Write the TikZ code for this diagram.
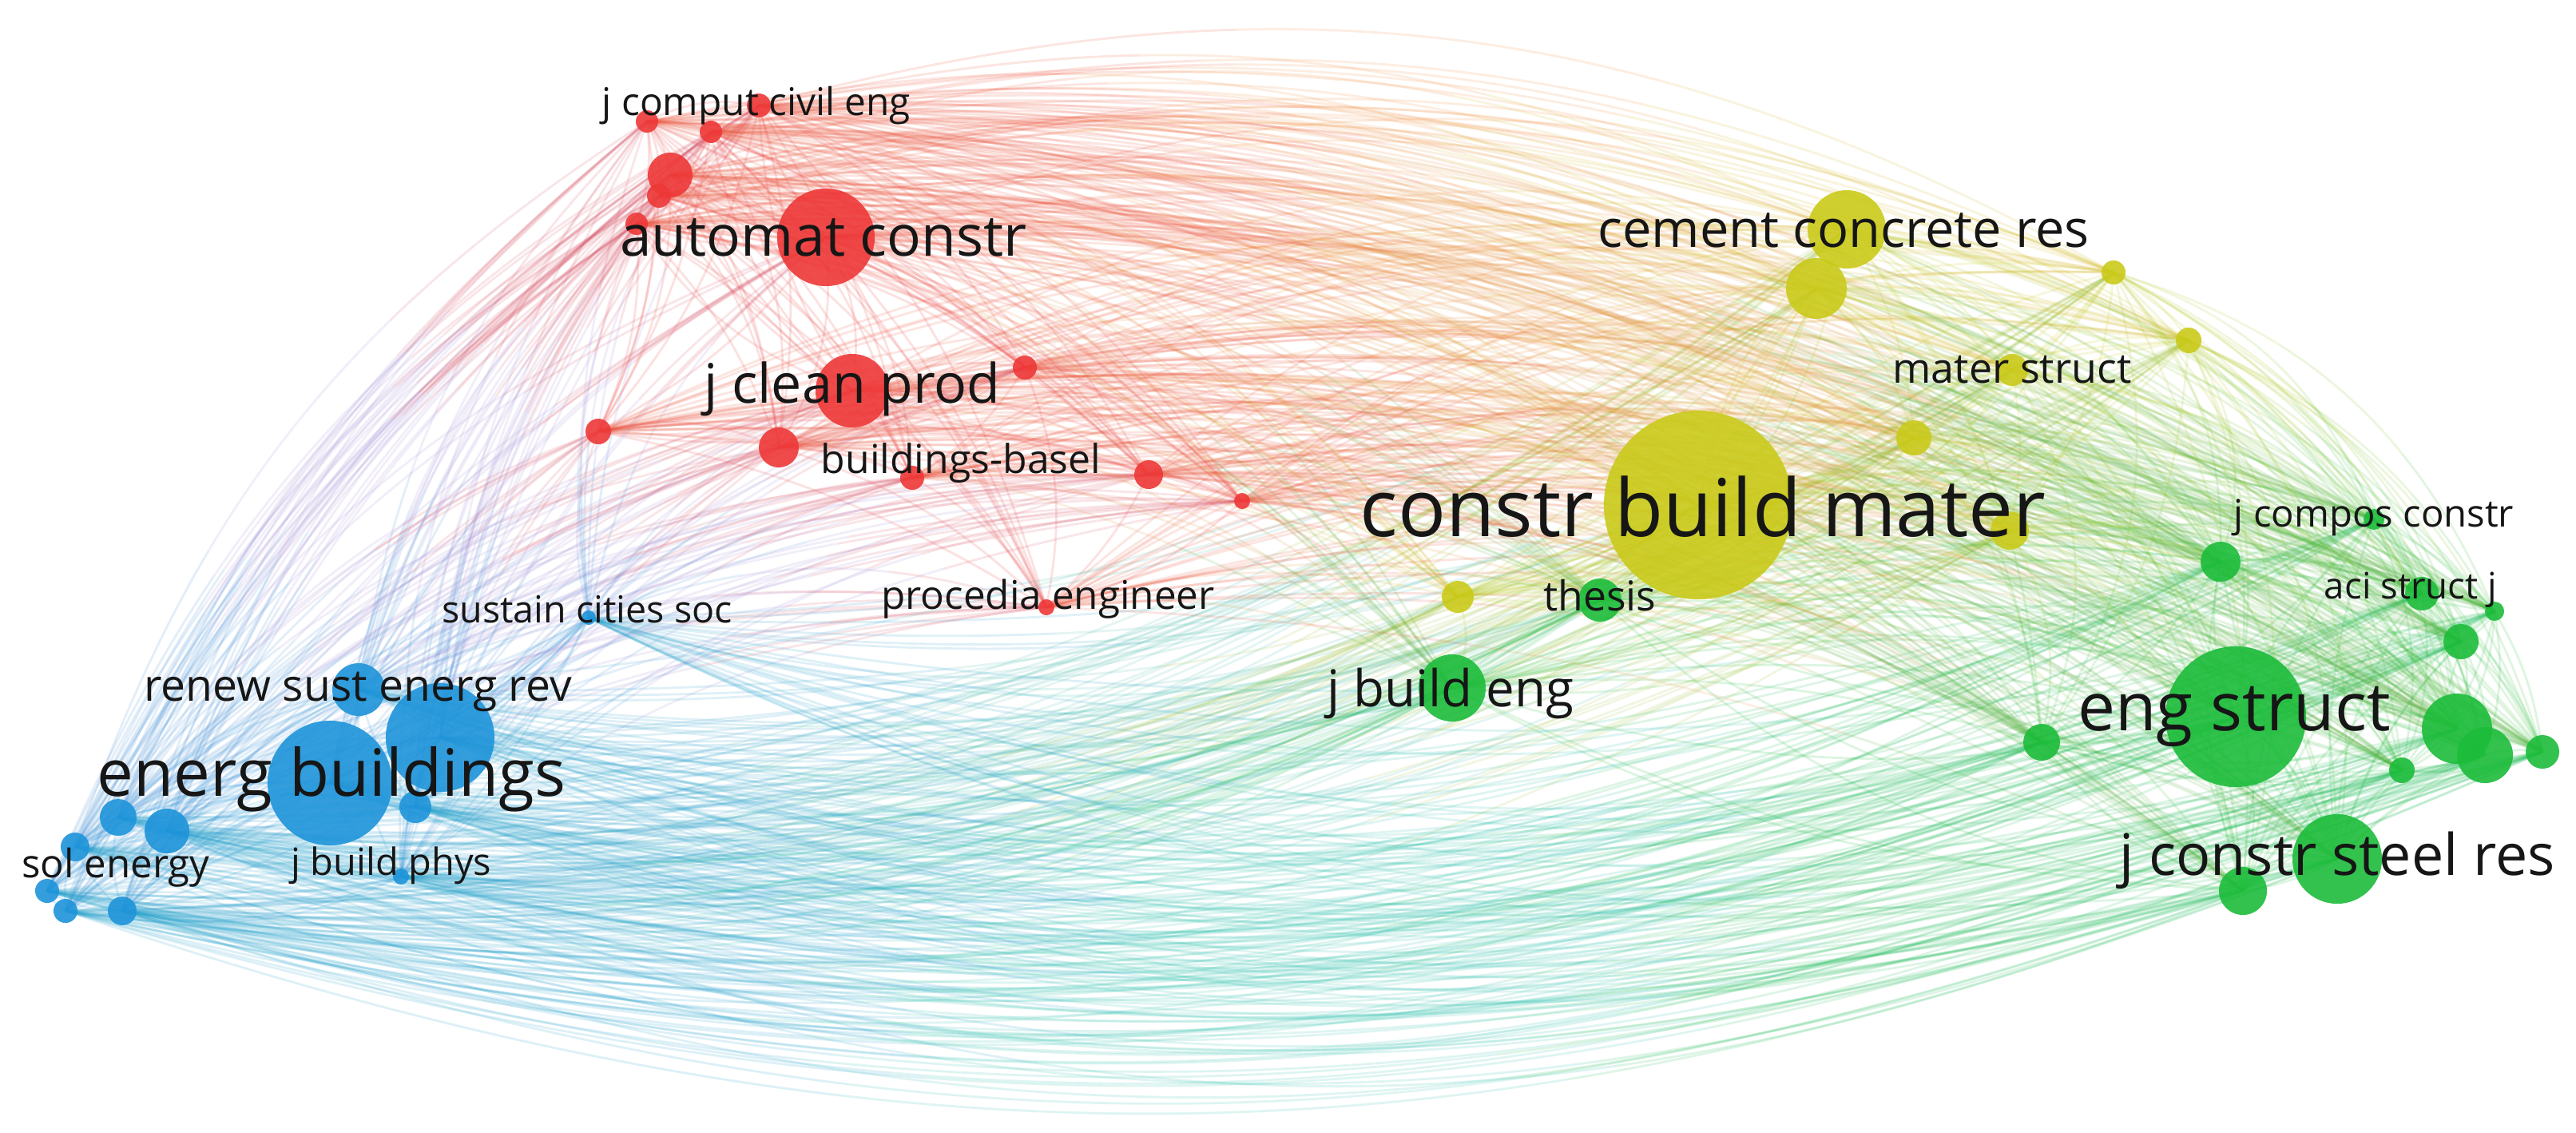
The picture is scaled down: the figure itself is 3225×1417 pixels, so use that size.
\documentclass[tikz,border=0pt]{standalone}
\usepackage{fontspec}
\setmainfont{Open Sans}
\usetikzlibrary{calc}
\definecolor{cR}{RGB}{238,56,56}
\definecolor{cB}{RGB}{30,148,218}
\definecolor{cG}{RGB}{28,188,58}
\definecolor{cY}{RGB}{202,202,26}
\definecolor{mBR}{RGB}{165,145,215}
\definecolor{mBY}{RGB}{80,190,175}
\definecolor{mBG}{RGB}{40,192,172}
\definecolor{mRY}{RGB}{245,140,55}
\definecolor{mRG}{RGB}{228,150,70}
\definecolor{mYG}{RGB}{130,200,40}
\definecolor{txt}{RGB}{22,22,22}
\tikzset{
  lnk/.style={line width=0.8pt, draw opacity=0.15},
  dot/.style={circle, inner sep=0pt, fill opacity=0.9, draw=none},
  lbl/.style={inner sep=0pt, text=txt},
}
\newcommand\jlabel[5]{\node[lbl] (#1) at (#2,#3) {\resizebox{#4}{!}{#5}};}
\newcommand\edgein[4]{%
  \foreach \ea [count=\ei] in #1 {%
    \foreach \eb [count=\ej] in #1 {%
      \ifnum\ej>\ei\relax
        \pgfmathtruncatemacro\eang{#4+mod(3*\ei+7*\ej,9)}%
        \draw[lnk,draw=#2] (\ea) to[bend #3=\eang] (\eb);%
      \fi
    }}}
% connector shaded in three parts: source colour, blend, target colour
\newcommand\edgex[7]{%
  \foreach \ea [count=\ei] in #1 {%
    \foreach \eb [count=\ej] in #2 {%
      \pgfmathtruncatemacro\eang{#5*(#6+mod(3*\ei+7*\ej,11))}%
      \pgfmathtruncatemacro\eangn{-\eang}%
      \coordinate (P1) at ($(\ea)!0.3915!\eang:(\eb)$);
      \coordinate (P2) at ($(\eb)!0.3915!\eangn:(\ea)$);
      \coordinate (T1) at ($0.2963*(\ea)+0.4444*(P1)+0.2222*(P2)+0.0370*(\eb)$);
      \coordinate (T2) at ($0.0370*(\ea)+0.2222*(P1)+0.4444*(P2)+0.2963*(\eb)$);
      \draw[lnk,draw=#3!70!#7] (\ea) .. controls ($0.6667*(\ea)+0.3333*(P1)$)
        and ($0.4444*(\ea)+0.4444*(P1)+0.1111*(P2)$) .. (T1);
      \draw[lnk,draw=#7] (T1) .. controls ($0.1481*(\ea)+0.4444*(P1)+0.3333*(P2)+0.0741*(\eb)$)
        and ($0.0741*(\ea)+0.3333*(P1)+0.4444*(P2)+0.1481*(\eb)$) .. (T2);
      \draw[lnk,draw=#4!70!#7] (T2) .. controls ($0.1111*(P1)+0.4444*(P2)+0.4444*(\eb)$)
        and ($0.3333*(P2)+0.6667*(\eb)$) .. (\eb);
    }}}
\def\Blist{b1,b2,b3,b4,b5,b6,b7,b8,b9,b10,b11,b13}
\def\Rlist{r1,r2,r3,r4,r5,r6,r7,r8,r9,r10,r11,r12,r13,r14,r15}
\def\Ylist{y1,y2,y3,y4,y5,y6,y7,y8,y9}
\def\Glist{g1,g2,g3,g4,g5,g6,g7,g8,g9,g10,g11,g12,g13,g14,g15}
\def\Nodes{b1/413/980/cB/78, b2/551/923/cB/68, b3/449/863/cB/33, b4/520/1010/cB/20,
 b5/148/1023/cB/23, b6/209/1040/cB/28, b7/94/1060/cB/18, b8/59/1115/cB/15,
 b9/82/1140/cB/15, b10/153/1140/cB/18, b11/502/1097/cB/10, b13/737/773/cB/9,
 r1/1034/297/cR/61, r2/1067/489/cR/46, r3/810/152/cR/14, r4/890/165/cR/14,
 r5/950/132/cR/15, r6/839/219/cR/28, r7/825/245/cR/15, r8/797/280/cR/14,
 r9/1283/460/cR/15, r10/749/540/cR/16, r11/975/560/cR/25, r12/1142/598/cR/15,
 r13/1438/594/cR/18, r14/1555/627/cR/10, r15/1310/760/cR/10,
 y1/2126/632/cY/118, y2/2312/287/cY/49, y3/2274/361/cY/38, y4/2646/341/cY/15,
 y5/2519/463/cY/20, y6/2396/548/cY/22, y7/2516/664/cY/24, y8/1825/747/cY/20,
 y9/2740/426/cY/16,
 g1/2799/897/cG/88, g2/2926/1075/cG/56, g3/2808/1115/cG/30, g4/1818/861/cG/42,
 g5/2003/751/cG/27, g6/2972/650/cG/13, g7/2780/703/cG/25, g8/3032/743/cG/21,
 g9/3123/765/cG/12, g10/3081/803/cG/22, g11/3076/912/cG/44, g12/3111/945/cG/35,
 g13/3183/941/cG/21, g14/3007/964/cG/16, g15/2556/929/cG/23}
\begin{document}
\begin{tikzpicture}[x=0.01cm,y=-0.01cm]
\fill[white] (0,0) rectangle (3225,1417);
\useasboundingbox (0,0) rectangle (3225,1417);
% node centres
\foreach \nm/\px/\py/\cl/\rr in \Nodes { \coordinate (\nm) at (\px,\py); }
% connectors
\edgein{\Blist}{cB}{right}{10}
\edgein{\Rlist}{cR}{left}{10}
\edgein{\Ylist}{cY}{left}{10}
\edgein{\Glist}{cG}{left}{10}
\edgex{\Blist}{\Rlist}{cB}{cR}{1}{10}{mBR}
\edgex{\Blist}{\Ylist}{cB}{cY}{-1}{12}{mBY}
\edgex{\Blist}{\Glist}{cB}{cG}{-1}{12}{mBG}
\edgex{\Rlist}{\Ylist}{cR}{cY}{1}{12}{mRY}
\edgex{\Rlist}{\Glist}{cR}{cG}{1}{11}{mRG}
\edgex{\Ylist}{\Glist}{cY}{cG}{1}{16}{mYG}
% circles
\foreach \nm/\px/\py/\cl/\rr in \Nodes {
  \node[dot, fill=\cl, minimum size={\rr*0.02cm}] (n\nm) at (\nm) {};
}
% labels
\jlabel{l1}{415}{975}{5.86cm}{energ buildings}
\jlabel{l2}{448}{866}{5.35cm}{renew sust energ rev}
\jlabel{l3}{145}{1086}{2.35cm}{sol energy}
\jlabel{l4}{490}{1083}{2.50cm}{j build phys}
\jlabel{l5}{735}{763}{3.63cm}{sustain cities soc}
\jlabel{l6}{1031}{297}{5.09cm}{automat constr}
\jlabel{l7}{1067}{487}{3.71cm}{j clean prod}
\jlabel{l8}{947}{132}{3.86cm}{j comput civil eng}
\jlabel{l9}{1203}{580}{3.50cm}{buildings-basel}
\jlabel{l10}{1312}{750}{4.17cm}{procedia engineer}
\jlabel{l11}{2132}{634}{8.58cm}{constr build mater}
\jlabel{l12}{2308}{288}{6.15cm}{cement concrete res}
\jlabel{l13}{2519}{463}{2.99cm}{mater struct}
\jlabel{l14}{2003}{745}{1.41cm}{thesis}
\jlabel{l15}{1816}{868}{3.08cm}{j build eng}
\jlabel{l16}{2797}{897}{3.91cm}{eng struct}
\jlabel{l17}{2972}{648}{3.50cm}{j compos constr}
\jlabel{l18}{3018}{738}{2.16cm}{aci struct j}
\jlabel{l19}{2926}{1077}{5.45cm}{j constr steel res}
\end{tikzpicture}
\end{document}
